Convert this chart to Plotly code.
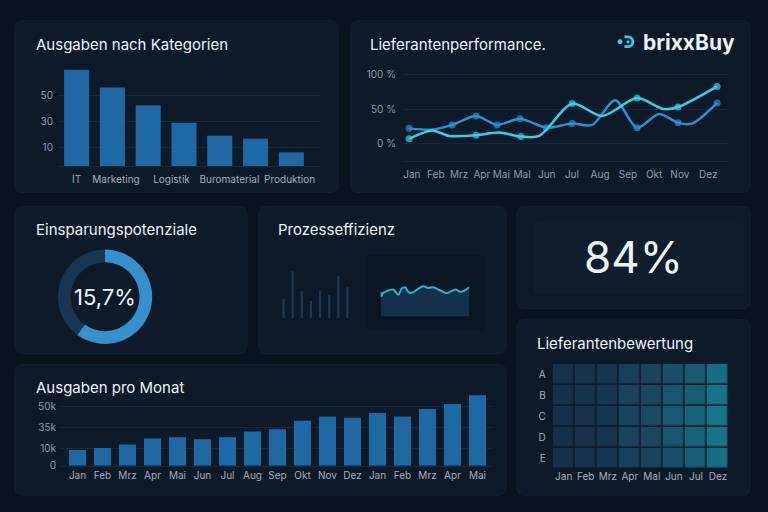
import plotly.graph_objects as go

W, H = 768, 512

# ---- data ----
kat_values = [68, 55.6, 43, 30.6, 21.5, 19.4, 9.7]
kat_ticks = [0, 1.1, 2.65, 4.27, 5.95]
kat_labels = ["IT", "Marketing", "Logistik", "Buromaterial", "Produktion"]
kat_yticks = [13.2, 31.3, 50]
kat_ytext = ["10", "30", "50"]

perf_months = ["Jan", "Feb", "Mrz", "Apr", "Mai", "Mal", "Jun", "Jul", "Aug", "Sep", "Okt", "Nov", "Dez"]
perf_month_pos = [0, 0.97, 1.91, 2.83, 3.62, 4.46, 5.46, 6.48, 7.62, 8.75, 9.81, 10.85, 12.0]
perf_yticks = [0, 50, 100]
perf_ytext = ["0 %", "50 %", "100 %"]
perf_a_x = [-0.11, 0.82, 1.63, 2.6, 3.45, 4.38, 5.44, 6.49, 7.3, 8.23, 9.12, 10.01, 10.78, 11.35, 12.36]
perf_a_y = [22, 20, 27, 40, 27, 36, 23, 29, 27, 63, 23, 43, 30, 29, 59]
perf_a_dot = [1, 0, 1, 1, 1, 1, 1, 1, 0, 0, 1, 0, 1, 0, 1]
perf_b_x = [-0.11, 0.82, 1.51, 2.6, 3.53, 4.42, 5.16, 6.49, 7.7, 9.12, 10.2, 10.78, 12.36]
perf_b_y = [7, 19, 11, 12, 16, 10, 11, 58, 40, 66, 50, 53, 83]
perf_b_dot = [1, 0, 0, 1, 0, 1, 0, 1, 0, 1, 0, 1, 1]

spar_values = [60, 40]
spar_text = "15,7%"

proz_bars = [20, 48, 27.5, 18, 28, 23.5, 43, 32]
proz_line_x = [0, 6, 12.6, 17.6, 21, 24.3, 27.6, 31, 37.6, 42.6, 47.6, 52.6, 57.6, 62.6, 66, 71, 75.3, 79.3, 82.6, 88.6]
proz_line_y = [22.3, 25.7, 27.3, 22.3, 28.3, 29.7, 25, 24, 28.3, 30.7, 29, 29.7, 27.3, 25, 23.7, 25.7, 27.3, 25, 25.7, 29.7]

kpi_text = "84%"

bew_cols = ["Jan", "Feb", "Mrz", "Apr", "Mal", "Jun", "Jul", "Dez"]
bew_rows = ["A", "B", "C", "D", "E"]
bew_z = [
    [0.10, 0.12, 0.15, 0.35, 0.40, 0.55, 0.65, 0.85],
    [0.08, 0.12, 0.18, 0.38, 0.45, 0.62, 0.70, 0.92],
    [0.06, 0.10, 0.18, 0.40, 0.48, 0.65, 0.75, 0.95],
    [0.05, 0.10, 0.15, 0.38, 0.45, 0.62, 0.75, 0.92],
    [0.08, 0.12, 0.18, 0.35, 0.42, 0.55, 0.70, 0.88],
]

monat_labels = ["Jan", "Feb", "Mrz", "Apr", "Mai", "Jun", "Jul", "Aug", "Sep", "Okt", "Nov", "Dez",
                "Jan", "Feb", "Mrz", "Apr", "Mai"]
monat_values = [13.3, 14.9, 18, 23, 24, 22.4, 24, 29, 30.7, 38, 41.5, 40.6, 44.5, 41.5, 48, 52.2, 59.5]
monat_yticks = [0, 14.3, 32.1, 50]
monat_ytext = ["0", "10k", "35k", "50k"]

# ---- styling ----
BG = "#0a121d"
PANEL = "#0f1a28"
GRID = "#18273a"
TICK = "#8e9aab"
WHITE = "#eef3f8"
BLUE = "#1f68a6"
LINE_A = "#2b8fd6"
LINE_B = "#35d0e3"
FONT = "Inter"


def px(x):
    return x / W


def py(y):
    return 1 - y / H


def dom_x(a, b):
    return [px(a), px(b)]


def dom_y(top, bottom):
    return [py(bottom), py(top)]


def rounded(x0, y0, x1, y1, r=8):
    pts = (f"M {px(x0 + r)},{py(y0)} L {px(x1 - r)},{py(y0)} Q {px(x1)},{py(y0)} {px(x1)},{py(y0 + r)} "
           f"L {px(x1)},{py(y1 - r)} Q {px(x1)},{py(y1)} {px(x1 - r)},{py(y1)} "
           f"L {px(x0 + r)},{py(y1)} Q {px(x0)},{py(y1)} {px(x0)},{py(y1 - r)} "
           f"L {px(x0)},{py(y0 + r)} Q {px(x0)},{py(y0)} {px(x0 + r)},{py(y0)} Z")
    return pts


fig = go.Figure()

# Ausgaben nach Kategorien
fig.add_trace(go.Bar(x=list(range(len(kat_values))), y=kat_values, marker_color=BLUE,
                     marker_line_width=0, width=0.7, xaxis="x", yaxis="y"))

# Lieferantenperformance
fig.add_trace(go.Scatter(x=perf_a_x, y=perf_a_y, mode="lines+markers",
                         line=dict(color=LINE_A, width=2.5, shape="spline", smoothing=0.8),
                         marker=dict(size=[7 * d for d in perf_a_dot], color=LINE_A, line=dict(width=0)),
                         xaxis="x2", yaxis="y2"))
fig.add_trace(go.Scatter(x=perf_b_x, y=perf_b_y, mode="lines+markers",
                         line=dict(color=LINE_B, width=2.5, shape="spline", smoothing=0.8),
                         marker=dict(size=[7 * d for d in perf_b_dot], color=LINE_B, line=dict(width=0)),
                         xaxis="x2", yaxis="y2"))

# Einsparungspotenziale
fig.add_trace(go.Pie(values=spar_values, hole=0.73, sort=False, direction="clockwise",
                     marker=dict(colors=["#3590d0", "#1a3651"], line=dict(width=0)),
                     textinfo="none", hoverinfo="skip",
                     domain=dict(x=dom_x(57, 153), y=dom_y(251, 347))))

# Prozesseffizienz
fig.add_trace(go.Bar(x=list(range(len(proz_bars))), y=proz_bars, marker_color="#1c3a58",
                     marker_line_width=0, width=0.24, xaxis="x3", yaxis="y3"))
fig.add_trace(go.Scatter(x=proz_line_x, y=proz_line_y, mode="lines", fill="tozeroy", fillcolor="#15304a",
                         line=dict(color="#22b6cf", width=2, shape="spline"), xaxis="x4", yaxis="y4"))
fig.add_trace(go.Scatter(x=proz_line_x[:1], y=proz_line_y[:1], mode="markers",
                         marker=dict(size=5, color="#22b6cf"), xaxis="x4", yaxis="y4"))

# Lieferantenbewertung
fig.add_trace(go.Heatmap(z=bew_z, x=bew_cols, y=bew_rows, zmin=0, zmax=1, showscale=False, xgap=1.5, ygap=1.5,
                         colorscale=[[0, "#172c44"], [0.45, "#1a4660"], [1, "#147b8a"]],
                         xaxis="x5", yaxis="y5"))

# Ausgaben pro Monat
fig.add_trace(go.Bar(x=list(range(len(monat_values))), y=monat_values, marker_color=BLUE,
                     marker_line_width=0, width=0.68, xaxis="x6", yaxis="y6"))

tickfont = dict(family=FONT, size=10, color=TICK)
labelfont = dict(family=FONT, size=10, color="#a3adba")
hidden = dict(visible=False, fixedrange=True)

shapes = []
for box in [(15, 18, 338, 193), (351, 18, 750, 193), (15, 207, 247, 357), (259, 207, 506, 357),
            (517, 207, 750, 311), (517, 322, 750, 501), (15, 368, 506, 501)]:
    shapes.append(dict(type="path", path=rounded(*box), xref="paper", yref="paper",
                       fillcolor=PANEL, line=dict(color="#132032", width=1), layer="below"))
# inset boxes
shapes.append(dict(type="path", path=rounded(366, 256, 485, 333, 5), xref="paper", yref="paper",
                   fillcolor="#0c1622", line=dict(width=0), layer="below"))
shapes.append(dict(type="path", path=rounded(533, 222, 744, 297, 4), xref="paper", yref="paper",
                   fillcolor="#111d2c", line=dict(width=0), layer="below"))
# logo icon
shapes.append(dict(type="circle", xref="paper", yref="paper", x0=px(617.5), x1=px(622.5), y0=py(42), y1=py(37),
                   fillcolor=LINE_B, line=dict(width=0)))
shapes.append(dict(type="path", xref="paper", yref="paper",
                   path=(f"M {px(624.5)},{py(34.5)} L {px(628)},{py(34.5)} C {px(634.5)},{py(34.5)} "
                         f"{px(634.5)},{py(44.5)} {px(628)},{py(44.5)} L {px(624.5)},{py(44.5)}"),
                   line=dict(color=LINE_B, width=2.8)))
shapes.append(dict(type="circle", xref="paper", yref="paper", x0=px(626.3), x1=px(629.7), y0=py(41.2), y1=py(37.8),
                   fillcolor=LINE_B, line=dict(width=0)))

annotations = []
for text, x, y in [("Ausgaben nach Kategorien", 34, 42), ("Lieferantenperformance.", 368, 42),
                   ("Einsparungspotenziale", 34, 231), ("Prozesseffizienz", 276, 231),
                   ("Lieferantenbewertung", 535, 347), ("Ausgaben pro Monat", 34, 391)]:
    annotations.append(dict(text=text, x=px(x), y=py(y), xref="paper", yref="paper", xanchor="left",
                            yanchor="middle", showarrow=False, font=dict(family=FONT, size=15, color=WHITE)))
annotations.append(dict(text="<b>brixxBuy</b>", x=px(641), y=py(40), xref="paper", yref="paper", xanchor="left",
                        yanchor="middle", showarrow=False, font=dict(family=FONT, size=21, color=WHITE)))
annotations.append(dict(text=spar_text, x=px(105), y=py(299), xref="paper", yref="paper", showarrow=False,
                        xanchor="center", yanchor="middle", font=dict(family=FONT, size=22, color=WHITE)))
annotations.append(dict(text=kpi_text, x=px(633), y=py(259), xref="paper", yref="paper", showarrow=False,
                        xanchor="center", yanchor="middle", font=dict(family=FONT, size=44, color=WHITE)))

fig.update_layout(
    width=W, height=H, margin=dict(l=0, r=0, t=0, b=0),
    paper_bgcolor=BG, plot_bgcolor="rgba(0,0,0,0)", showlegend=False,
    font=dict(family=FONT, color=TICK),
    shapes=shapes, annotations=annotations,
    xaxis=dict(domain=dom_x(58, 320), range=[-0.52, 6.8], tickvals=kat_ticks, ticktext=kat_labels,
               tickfont=labelfont, showgrid=False, zeroline=False,
               showline=True, linecolor=GRID, ticks="", ticklabelstandoff=4, fixedrange=True),
    yaxis=dict(domain=dom_y(60, 166), range=[0, 73.6], tickvals=kat_yticks, ticktext=kat_ytext,
               tickfont=tickfont, gridcolor=GRID, zeroline=False, ticklabelstandoff=4, fixedrange=True),
    xaxis2=dict(domain=dom_x(403, 728), range=[-0.36, 12.8], tickvals=perf_month_pos, ticktext=perf_months,
                tickfont=tickfont, showgrid=False, zeroline=False, showline=True, linecolor=GRID,
                anchor="y2", ticklabelstandoff=4, fixedrange=True),
    yaxis2=dict(domain=dom_y(70, 161), range=[-25.7, 104.3], tickvals=perf_yticks, ticktext=perf_ytext,
                tickfont=tickfont, gridcolor=GRID, zeroline=False, anchor="x2", ticklabelstandoff=6,
                fixedrange=True),
    xaxis3=dict(domain=dom_x(279, 352), range=[-0.5, 7.5], anchor="y3", **hidden),
    yaxis3=dict(domain=dom_y(271, 321), range=[0, 50], anchor="x3", **hidden),
    xaxis4=dict(domain=dom_x(380.7, 469.3), range=[0, 88.6], anchor="y4", **hidden),
    yaxis4=dict(domain=dom_y(279, 319), range=[0, 40], anchor="x4", **hidden),
    xaxis5=dict(domain=dom_x(552.7, 729), anchor="y5", tickfont=labelfont,
                showgrid=False, zeroline=False, fixedrange=True),
    yaxis5=dict(domain=dom_y(367.3, 474), anchor="x5", autorange="reversed",
                tickfont=labelfont, showgrid=False, zeroline=False,
                ticklabelstandoff=6, fixedrange=True),
    xaxis6=dict(domain=dom_x(60, 492), range=[-0.7, 16.58], tickvals=list(range(len(monat_labels))),
                ticktext=monat_labels, tickfont=labelfont,
                showgrid=False, zeroline=False, showline=True, linecolor=GRID, anchor="y6", fixedrange=True),
    yaxis6=dict(domain=dom_y(397, 471), range=[0, 61.4], tickvals=monat_yticks, ticktext=monat_ytext,
                tickfont=tickfont, gridcolor=GRID, zeroline=False, anchor="x6", ticklabelstandoff=3,
                fixedrange=True),
)

# the page keeps the browser's default body margin otherwise
fig.write_html("out.html", config={"displayModeBar": False},
               post_script="document.body.style.margin='0';document.body.style.background='%s';" % BG)
